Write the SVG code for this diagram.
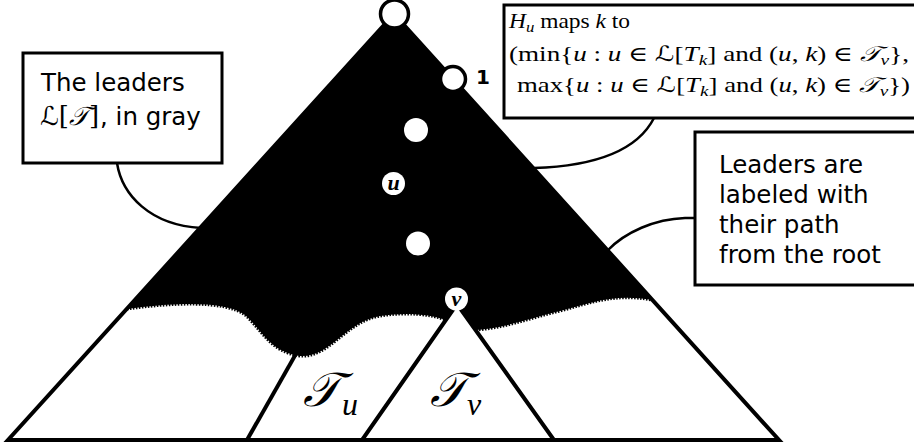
<svg xmlns="http://www.w3.org/2000/svg" width="914" height="447" viewBox="0 0 914 447">
<style>
.edge{fill:none;stroke:#000;stroke-width:2.5}
.box{fill:#fff;stroke:#000;stroke-width:3}
.sans{font-family:"DejaVu Sans",sans-serif;font-size:24.5px;fill:#000}
.math{font-family:"Liberation Serif","DejaVu Serif",serif;font-size:21px;fill:#000}
.it{font-style:italic}
.tri{fill:#fff;stroke:#000;stroke-width:4;stroke-linejoin:miter}
.dot{fill:#fff}
.node{fill:#fff;stroke:#000;stroke-width:3.5}
.nl{font-family:"Liberation Serif","DejaVu Serif",serif;font-style:italic;font-weight:bold;font-size:22px;text-anchor:middle;fill:#000}
.cal{font-family:"DejaVu Serif","DejaVu Sans","Liberation Serif",serif}
.big{font-family:"Liberation Serif",serif;font-style:italic;font-size:32px;fill:#000}
</style>
<g id="tree">
  <polygon class="tri" points="394,14 8,440 779,440"/>
  <line x1="247" y1="440" x2="393" y2="183" stroke="#000" stroke-width="4"/>
  <path id="leaders" d="M394,14 L127,309 C170,303 225,300 245,315 C262,330 270,352 300,356 C330,358 345,322 380,316 C405,312 430,314 446,320 L457,304 L470,330 C500,330 530,318 560,311 C590,303 615,293 652,300 Z" fill="#000"/>
  <path d="M127,309 C170,303 225,300 245,315 C262,330 270,352 300,356 C330,358 345,322 380,316 C405,312 430,314 446,320 M470,330 C500,330 530,318 560,311 C590,303 615,293 652,300" fill="none" stroke="#000" stroke-width="3" stroke-dasharray="1.5 1.5"/>
  <polygon class="tri" points="457,304 362,440 554,440"/>
</g>
<g id="label-tu">
  <text x="303" y="406" class="cal" font-size="48" font-style="italic">𝒯</text>
  <text x="342" y="415" class="big">u</text>
</g>
<g id="label-tv">
  <text x="430" y="406" class="cal" font-size="48" font-style="italic">𝒯</text>
  <text x="467" y="415" class="big">v</text>
</g>
<g id="root"><circle class="node" cx="394.5" cy="14" r="14"/></g>
<g id="n1"><circle class="node" cx="453" cy="79" r="12.5" stroke-width="3"/><text x="476" y="84" font-family="DejaVu Sans" font-weight="bold" font-size="20">1</text></g>
<g id="n2"><circle class="dot" cx="416" cy="130" r="12"/></g>
<g id="nu"><circle class="dot" cx="393.5" cy="183.5" r="11.5"/><text class="nl" x="393.5" y="190">u</text></g>
<g id="n3"><circle class="dot" cx="418" cy="243.5" r="12"/></g>
<g id="nv"><circle class="dot" cx="456.5" cy="299" r="11.5"/><text class="nl" x="456.5" y="305.5">v</text></g>
<g id="connectors">
  <path class="edge" d="M117,163 C122,195 150,225 201,228"/>
  <path class="edge" d="M654,118 Q630,165 534,168"/>
  <path class="edge" d="M695,218 L685,218 C655,219 625,232 607,251"/>
</g>
<g id="box-leaders">
  <rect class="box" x="23" y="53" width="199" height="110"/>
  <text class="sans" x="41" y="91">The leaders</text>
  <text x="40" y="125" class="cal" font-size="26" font-style="italic">ℒ<tspan font-style="normal">[</tspan>𝒯<tspan font-style="normal">]</tspan></text>
  <text class="sans" x="100" y="125">, in gray</text>
</g>
<g id="box-map">
  <rect class="box" x="504" y="5" width="414" height="113"/>
  <text class="math" x="509" y="28" textLength="121" lengthAdjust="spacingAndGlyphs"><tspan class="it">H</tspan><tspan class="it" font-size="15" dy="4">u</tspan><tspan dy="-4"> maps </tspan><tspan class="it">k</tspan> to</text>
  <text class="math" x="509" y="61" textLength="400" lengthAdjust="spacingAndGlyphs">(min{<tspan class="it">u</tspan> : <tspan class="it">u</tspan> ∈ <tspan class="cal it">ℒ</tspan>[<tspan class="it">T</tspan><tspan class="it" font-size="15" dy="4">k</tspan><tspan dy="-4">] and (</tspan><tspan class="it">u</tspan>, <tspan class="it">k</tspan>) ∈ <tspan class="cal it">𝒯</tspan><tspan class="it" font-size="15" dy="4">v</tspan><tspan dy="-4">},</tspan></text>
  <text class="math" x="517" y="92" textLength="393" lengthAdjust="spacingAndGlyphs">max{<tspan class="it">u</tspan> : <tspan class="it">u</tspan> ∈ <tspan class="cal it">ℒ</tspan>[<tspan class="it">T</tspan><tspan class="it" font-size="15" dy="4">k</tspan><tspan dy="-4">] and (</tspan><tspan class="it">u</tspan>, <tspan class="it">k</tspan>) ∈ <tspan class="cal it">𝒯</tspan><tspan class="it" font-size="15" dy="4">v</tspan><tspan dy="-4">})</tspan></text>
</g>
<g id="box-labels">
  <rect class="box" x="695" y="132" width="222" height="153"/>
  <text class="sans" x="719" y="173">Leaders are</text>
  <text class="sans" x="719" y="203">labeled with</text>
  <text class="sans" x="719" y="233">their path</text>
  <text class="sans" x="719" y="263">from the root</text>
</g>
</svg>
